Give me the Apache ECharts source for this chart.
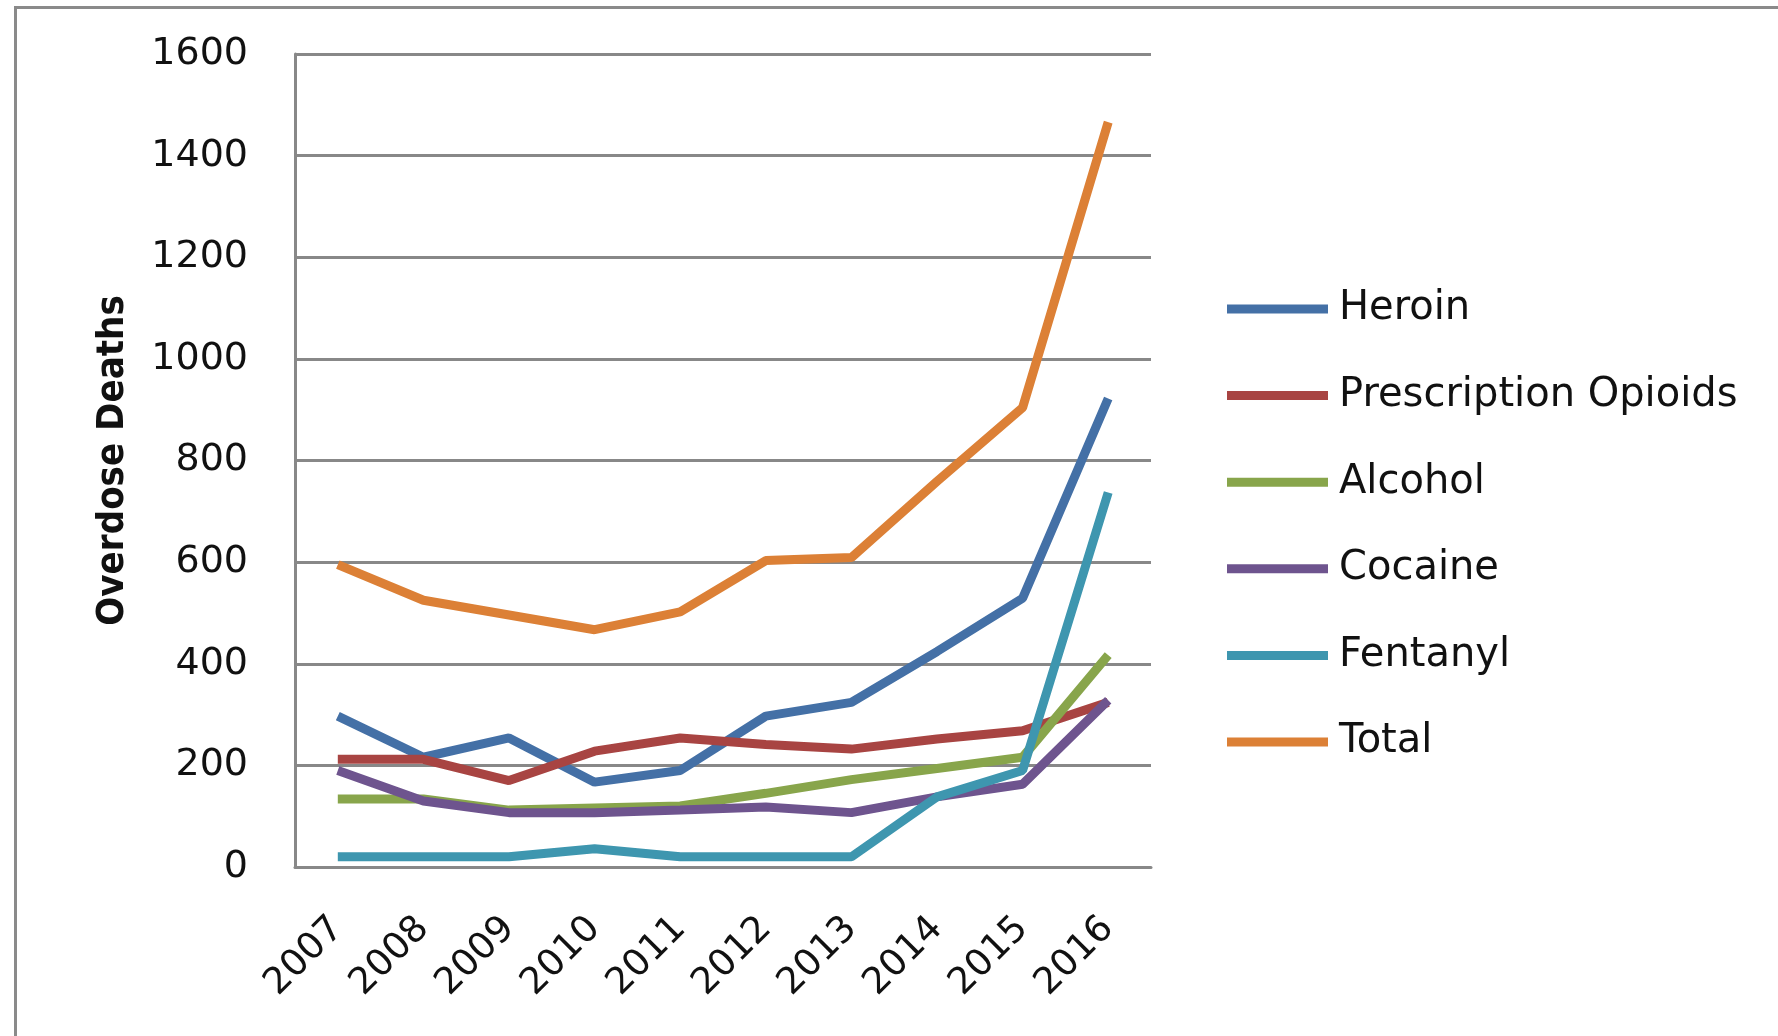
<!DOCTYPE html>
<html>
<head>
<meta charset="utf-8">
<script src="https://cdn.jsdelivr.net/npm/echarts@6/dist/echarts.min.js"></script>
<style>
html,body{margin:0;padding:0;background:#fff;}
#frame{position:absolute;left:14px;top:6px;width:1800px;height:1100px;border-left:3px solid #8a8a8a;border-top:3px solid #8a8a8a;}
#chart{position:absolute;left:0;top:0;width:1778px;height:1036px;}
</style>
</head>
<body>
<div id="frame"></div>
<div id="chart"></div>
<script>
const years = ['2007','2008','2009','2010','2011','2012','2013','2014','2015','2016'];
const heroin = [297, 216, 254, 167, 190, 297, 324, 424, 529, 922];
const prescriptionOpioids = [212, 212, 170, 228, 254, 241, 232, 252, 268, 324];
const alcohol = [134, 134, 112, 116, 120, 145, 172, 194, 216, 417];
const cocaine = [190, 130, 107, 107, 112, 118, 107, 138, 163, 328];
const fentanyl = [20, 20, 20, 36, 20, 20, 20, 138, 190, 737];
const total = [595, 525, 496, 467, 502, 603, 609, 759, 904, 1466];
const seriesNames = ['Heroin','Prescription Opioids','Alcohol','Cocaine','Fentanyl','Total'];
const seriesData = [heroin, prescriptionOpioids, alcohol, cocaine, fentanyl, total];
const colors = ['#4470A6','#A84442','#88A54B','#6E548E','#3E96AF','#DC8036'];

const chart = echarts.init(document.getElementById('chart'), null, {renderer:'canvas'});
const font = 'DejaVu Sans';
chart.setOption({
  animation:false,
  backgroundColor:'transparent',
  color:colors,
  grid:{left:295, right:627, top:54, bottom:169, containLabel:false},
  legend:{
    orient:'vertical', left:1222, top:284,
    icon:'rect', itemWidth:101, itemHeight:9, itemGap:46.6,
    textStyle:{fontFamily:font, fontSize:40, color:'#111', lineHeight:40, padding:[0,0,0,6]},
    data:seriesNames
  },
  xAxis:{
    type:'category', data:years, boundaryGap:true,
    axisLine:{lineStyle:{color:'#888', width:3}},
    axisTick:{show:false},
    axisLabel:{rotate:45, fontFamily:font, fontSize:37, color:'#111', margin:56, interval:0}
  },
  yAxis:{
    type:'value', min:0, max:1600, interval:200,
    name:'Overdose Deaths', nameLocation:'middle', nameGap:163,
    nameTextStyle:{fontFamily:"'DejaVu Sans Condensed', 'DejaVu Sans', sans-serif", fontSize:38, fontWeight:'bold', color:'#111'},
    axisLine:{show:true, lineStyle:{color:'#888', width:3}},
    axisTick:{show:false},
    splitLine:{lineStyle:{color:'#888', width:3}},
    axisLabel:{fontFamily:font, fontSize:38, color:'#111', margin:47, formatter:(v)=>String(v)}
  },
  series: seriesNames.map((n,i)=>({
    name:n, type:'line', data:seriesData[i], symbol:'none',
    lineStyle:{width:9, color:colors[i]}, itemStyle:{color:colors[i]}
  }))
});
</script>
</body>
</html>
